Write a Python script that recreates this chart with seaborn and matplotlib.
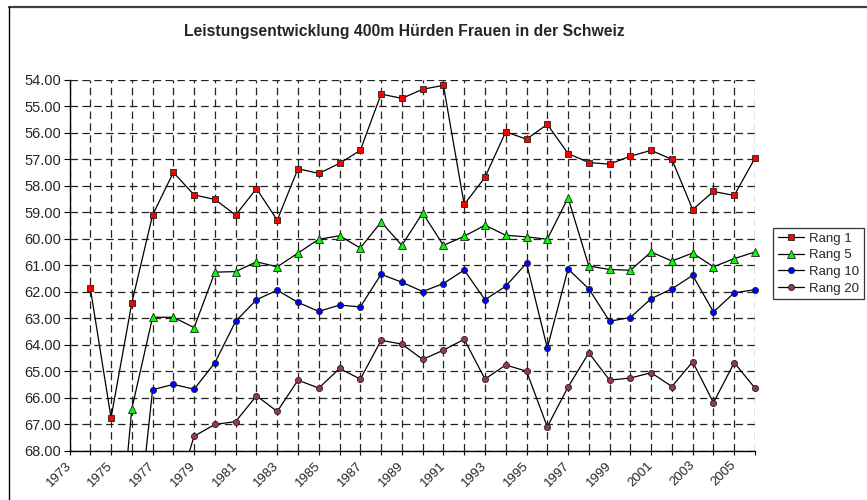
import numpy as np
import pandas as pd
import matplotlib
matplotlib.use("Agg")
import matplotlib.pyplot as plt
import matplotlib.transforms as mtransforms
import seaborn as sns
from matplotlib.lines import Line2D
from matplotlib.patches import Rectangle
from matplotlib.ticker import FormatStrFormatter

nan = np.nan

# Jahre (Kategorien) und Zeiten in Sekunden
years = list(range(1973, 2007))

rang1 = [nan, 61.86, 66.75, 62.42, 59.11, 57.50, 58.35, 58.52, 59.11, 58.11,
         59.30, 57.36, 57.54, 57.16, 56.67, 54.55, 54.71, 54.37, 54.22, 58.71,
         57.69, 55.97, 56.25, 55.69, 56.79, 57.13, 57.19, 56.89, 56.67, 57.01,
         58.90, 58.22, 58.37, 56.96]
rang5 = [nan, nan, 74.90, 66.41, 62.96, 62.96, 63.35, 61.26, 61.24, 60.87,
         61.06, 60.54, 60.02, 59.89, 60.35, 59.37, 60.25, 59.03, 60.25, 59.91,
         59.49, 59.87, 59.93, 60.02, 58.46, 61.03, 61.16, 61.19, 60.50, 60.84,
         60.54, 61.06, 60.75, 60.50]
rang10 = [nan, nan, nan, 73.00, 65.69, 65.49, 65.67, 64.67, 63.11, 62.30,
          61.94, 62.40, 62.74, 62.50, 62.57, 61.34, 61.64, 61.99, 61.69, 61.18,
          62.30, 61.79, 60.92, 64.12, 61.14, 61.89, 63.11, 62.97, 62.26, 61.89,
          61.38, 62.76, 62.04, 61.92]
rang20 = [nan, nan, nan, nan, nan, 70.00, 67.44, 67.00, 66.89, 65.92,
          66.51, 65.33, 65.63, 64.89, 65.29, 63.83, 63.97, 64.55, 64.20, 63.79,
          65.29, 64.76, 64.99, 67.09, 65.59, 64.30, 65.33, 65.25, 65.05, 65.57,
          64.64, 66.18, 64.67, 65.63]

series_names = ["Rang 1", "Rang 5", "Rang 10", "Rang 20"]
y_ticks = list(range(54, 69))
x_labels = [str(y) if (y - 1973) % 2 == 0 else "" for y in years]

df = pd.DataFrame({"Jahr": years, "Rang 1": rang1, "Rang 5": rang5,
                   "Rang 10": rang10, "Rang 20": rang20})
long_df = df.melt(id_vars="Jahr", var_name="Rang", value_name="Zeit").dropna()

sns.set_style("white")
plt.rcParams["font.family"] = ["Liberation Sans", "DejaVu Sans"]

styles = {
    "Rang 1": dict(marker="s", markerfacecolor="#ff0000", markersize=4.6),
    "Rang 5": dict(marker="^", markerfacecolor="#00ff00", markersize=5.2),
    "Rang 10": dict(marker="o", markerfacecolor="#0000ff", markersize=4.4),
    "Rang 20": dict(marker="o", markerfacecolor="#993366", markersize=4.4),
}

W, H = 867, 500
fig = plt.figure(figsize=(W / 100, H / 100), dpi=100)
x0, x1, y0, y1 = 69.5, 755, 79.5, 451
ax = fig.add_axes([x0 / W, 1 - y1 / H, (x1 - x0) / W, (y1 - y0) / H])

for name in series_names:
    sub = long_df[long_df["Rang"] == name]
    sns.lineplot(data=sub, x="Jahr", y="Zeit", ax=ax, color="black",
                 linewidth=0.9, markeredgecolor="#202020", markeredgewidth=0.6,
                 estimator=None, label=name, legend=False, **styles[name])

# nur oben/unten abschneiden, Marker am Rand bleiben sichtbar
clip = Rectangle((-0.05, 0), 1.1, 1, transform=ax.transAxes)
for line in ax.lines:
    line.set_clip_path(clip)

ax.set_xlim(1973, 2006)
ax.set_ylim(68, 54)
ax.set_xticks(years)
ax.set_xticklabels(x_labels, rotation=45, ha="right", va="center",
                   rotation_mode="anchor", fontsize=9.5)
shift = mtransforms.ScaledTranslation(-6 / 100, 0, fig.dpi_scale_trans)
for lab in ax.get_xticklabels():
    lab.set_transform(lab.get_transform() + shift)
ax.set_yticks(y_ticks)
ax.yaxis.set_major_formatter(FormatStrFormatter("%.2f"))
ax.tick_params(axis="y", labelsize=10.5, left=True, length=4, width=0.8,
               color="black", pad=2)
ax.tick_params(axis="x", bottom=True, length=3, width=0.8, color="black", pad=6)
ax.set_xlabel("")
ax.set_ylabel("")

ax.grid(True, color="#222222", linewidth=0.9, linestyle=(0, (6, 3.5)))
ax.set_axisbelow(True)
for side in ["top", "right"]:
    ax.spines[side].set_visible(False)
for side in ["left", "bottom"]:
    ax.spines[side].set_color("black")
    ax.spines[side].set_linewidth(1.0)

handles = [Line2D([], [], color="black", linewidth=0.9, markeredgecolor="#202020",
                  markeredgewidth=0.6, **styles[n]) for n in series_names]
leg = fig.legend(handles, series_names, loc="upper left",
                 bbox_to_anchor=(773 / W, 1 - 228 / H), fontsize=9.5,
                 frameon=True, fancybox=False, borderpad=0.35, labelspacing=0.33,
                 handlelength=2.0, handletextpad=0.4, borderaxespad=0)
leg.get_frame().set_edgecolor("black")
leg.get_frame().set_linewidth(0.9)

fig.text(404 / W, 1 - 31.5 / H,
         "Leistungsentwicklung 400m Hürden Frauen in der Schweiz",
         ha="center", va="center", fontsize=11.3, fontweight="bold")

# Rahmen des Diagrammbereichs
fig.add_artist(Line2D([9 / W, 1], [1 - 7 / H, 1 - 7 / H], color="#404040",
                      linewidth=1.6, transform=fig.transFigure))
fig.add_artist(Line2D([9 / W, 9 / W], [1 - 7 / H, 0], color="black",
                      linewidth=1.0, transform=fig.transFigure))

fig.savefig("out.png", dpi=100)
